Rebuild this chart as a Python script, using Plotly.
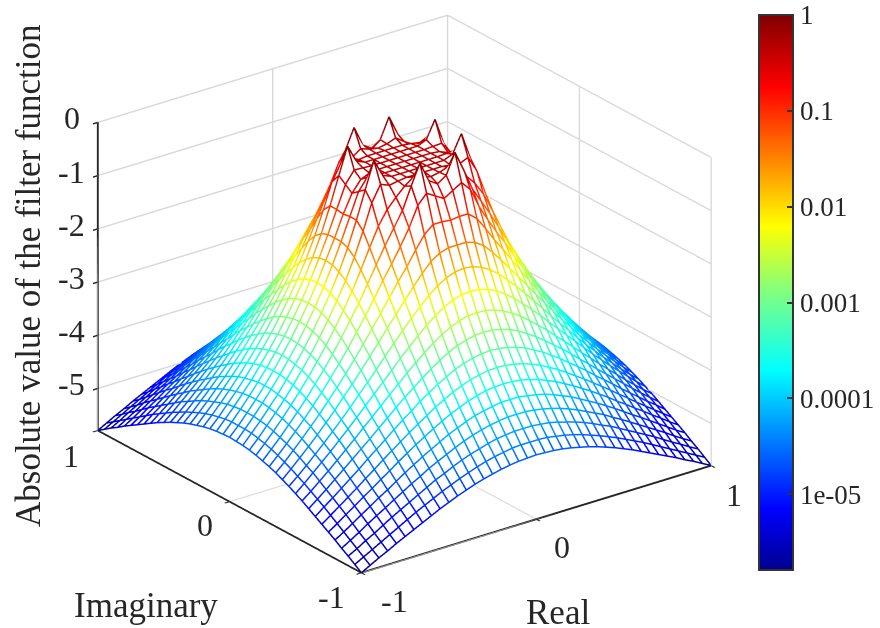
import numpy as np
import plotly.graph_objects as go

# grid coordinates
axis_values = [round(-1 + 0.05 * k, 2) for k in range(41)]

# log10 |filter| read for the first octant: row j (0..20), entries i = 0..j, step 0.05 from the centre
octant_values = [
    [-0.40],
    [-0.40, -0.40],
    [-0.40, -0.40, -0.40],
    [-0.40, -0.40, -0.40, -0.42],
    [-0.42, -0.39, -0.33, -0.45, -0.61],
    [-0.49, -0.38, 0.00, -0.38, -0.79, -1.07],
    [-0.70, -0.60, -0.50, -0.68, -1.05, -1.35, -1.63],
    [-1.04, -1.02, -1.02, -1.16, -1.40, -1.66, -1.89, -2.14],
    [-1.44, -1.44, -1.49, -1.60, -1.77, -1.97, -2.18, -2.39, -2.60],
    [-1.81, -1.83, -1.89, -1.99, -2.12, -2.28, -2.45, -2.63, -2.82, -3.01],
    [-2.18, -2.19, -2.24, -2.32, -2.43, -2.56, -2.71, -2.87, -3.03, -3.21, -3.38],
    [-2.51, -2.52, -2.56, -2.63, -2.72, -2.83, -2.96, -3.10, -3.24, -3.40, -3.55, -3.71],
    [-2.81, -2.82, -2.86, -2.91, -2.99, -3.09, -3.20, -3.32, -3.45, -3.58, -3.72, -3.87, -4.01],
    [-3.09, -3.10, -3.13, -3.18, -3.24, -3.33, -3.42, -3.53, -3.64, -3.77, -3.89, -4.02, -4.16, -4.29],
    [-3.34, -3.35, -3.38, -3.42, -3.48, -3.55, -3.64, -3.73, -3.84, -3.95, -4.06, -4.18, -4.30, -4.42, -4.55],
    [-3.58, -3.59, -3.61, -3.65, -3.70, -3.77, -3.84, -3.93, -4.02, -4.12, -4.22, -4.33, -4.44, -4.56, -4.67, -4.79],
    [-3.81, -3.81, -3.84, -3.87, -3.91, -3.97, -4.04, -4.11, -4.20, -4.29, -4.38, -4.48, -4.58, -4.69, -4.80, -4.90, -5.01],
    [-4.02, -4.02, -4.04, -4.07, -4.11, -4.16, -4.22, -4.29, -4.37, -4.45, -4.53, -4.63, -4.72, -4.82, -4.92, -5.02, -5.12, -5.22],
    [-4.22, -4.22, -4.24, -4.26, -4.30, -4.35, -4.40, -4.46, -4.53, -4.61, -4.68, -4.77, -4.86, -4.95, -5.04, -5.13, -5.23, -5.33, -5.42],
    [-4.41, -4.41, -4.42, -4.45, -4.48, -4.52, -4.57, -4.63, -4.69, -4.76, -4.83, -4.91, -4.99, -5.07, -5.16, -5.25, -5.34, -5.43, -5.52, -5.61],
    [-4.58, -4.59, -4.60, -4.62, -4.65, -4.69, -4.73, -4.78, -4.84, -4.90, -4.97, -5.04, -5.12, -5.20, -5.28, -5.36, -5.44, -5.53, -5.61, -5.70, -5.79],
]

colorbar_tick_values = [-5, -4, -3, -2, -1, 0]
colorbar_tick_labels = ["1e-05", "0.0001", "0.001", "0.01", "0.1", "1"]
z_ticks = [0, -1, -2, -3, -4, -5]
xy_ticks = [-1, 0, 1]

ZMIN, ZMAX = -5.79, 0.0
FONT = "Liberation Serif"
INK = "#262626"

jet = [
    [0.0, "rgb(0,0,143)"], [0.11, "rgb(0,0,255)"], [0.36, "rgb(0,255,255)"],
    [0.5, "rgb(128,255,128)"], [0.62, "rgb(255,255,0)"], [0.87, "rgb(255,0,0)"],
    [1.0, "rgb(128,0,0)"],
]

n = len(axis_values)
centre = n // 2
Z = np.zeros((n, n))
for a in range(n):
    for b in range(n):
        i, j = abs(a - centre), abs(b - centre)
        Z[a, b] = octant_values[max(i, j)][min(i, j)]

xs, ys, zs, cs = [], [], [], []
for a in range(n):
    for b in range(n):
        xs.append(axis_values[b]); ys.append(axis_values[a]); zs.append(Z[a, b]); cs.append(Z[a, b])
    xs.append(None); ys.append(None); zs.append(None); cs.append(Z[a, n - 1])
for b in range(n):
    for a in range(n):
        xs.append(axis_values[b]); ys.append(axis_values[a]); zs.append(Z[a, b]); cs.append(Z[a, b])
    xs.append(None); ys.append(None); zs.append(None); cs.append(Z[n - 1, b])

fig = go.Figure()
fig.add_trace(go.Surface(
    x=axis_values, y=axis_values, z=Z - 0.03,
    colorscale=[[0, "white"], [1, "white"]], showscale=False, hoverinfo="skip",
    lighting=dict(ambient=1, diffuse=0, specular=0, fresnel=0, roughness=1),
))
fig.add_trace(go.Scatter3d(
    x=xs, y=ys, z=zs, mode="lines", hoverinfo="skip",
    line=dict(
        width=3.0, color=cs, colorscale=jet, cmin=ZMIN, cmax=ZMAX, showscale=True,
        colorbar=dict(
            x=759 / 880, xanchor="left", y=1 - 15 / 628, yanchor="top",
            thickness=34, thicknessmode="pixels", len=555, lenmode="pixels",
            xpad=0, ypad=0, outlinewidth=2, outlinecolor="#333333",
            tickmode="array", tickvals=colorbar_tick_values, ticktext=colorbar_tick_labels,
            ticks="inside", ticklen=7, tickwidth=1.5, tickcolor="#333333",
            tickfont=dict(family=FONT, size=27, color=INK),
        ),
    ),
))

def ax(tickvals, rng):
    return dict(
        range=rng, tickmode="array", tickvals=tickvals, showticklabels=False,
        showbackground=False, showgrid=True, gridcolor="#d8d8d8", gridwidth=3,
        zeroline=False, showline=True, linecolor=INK, linewidth=4,
        ticks="outside", ticklen=6, tickcolor=INK, tickwidth=3, showspikes=False, title=dict(text=""),
    )

def tick_label(x, y, z, text, dx, dy):
    return dict(x=x, y=y, z=z, text=text, showarrow=False, xanchor="center", yanchor="middle",
                xshift=dx, yshift=-dy, font=dict(family=FONT, size=32, color=INK))

scene_labels = []
for v in z_ticks:
    scene_labels.append(tick_label(-1, 1, v, str(v), -26, -4))
for v, (dx, dy) in zip(xy_ticks, [(-30, 24), (-25, 23), (-27, 25)]):
    scene_labels.append(tick_label(-1, v, ZMIN, str(v), dx, dy))
for v, (dx, dy) in zip(xy_ticks, [(33, 28), (26, 28), (23, 29)]):
    scene_labels.append(tick_label(v, -1, ZMIN, str(v), dx, dy))

az = np.deg2rad(37.0)
el = np.deg2rad(24.0)
R = 1.43
fig.update_layout(
    width=880, height=628, margin=dict(l=0, r=0, t=0, b=0, autoexpand=False),
    paper_bgcolor="white", showlegend=False,
    scene=dict(
        domain=dict(x=[0, 809 / 880], y=[42 / 628, 1 - 2 / 628]),
        xaxis=ax(xy_ticks, [-1, 1]),
        yaxis=ax(xy_ticks, [-1, 1]),
        zaxis=ax(z_ticks, [ZMIN, ZMAX]),
        aspectmode="manual", aspectratio=dict(x=1.5, y=1.5, z=1.155),
        annotations=scene_labels,
        camera=dict(
            projection=dict(type="orthographic"),
            up=dict(x=0, y=0, z=1), center=dict(x=0, y=0, z=0),
            eye=dict(x=-R * np.sin(az) * np.cos(el), y=-R * np.cos(az) * np.cos(el), z=R * np.sin(el)),
        ),
    ),
    annotations=[
        dict(text="Absolute value of the filter function", x=28 / 880, y=1 - 276 / 628, xref="paper", yref="paper",
             xanchor="center", yanchor="middle", textangle=-90, showarrow=False,
             font=dict(family=FONT, size=35, color=INK)),
        dict(text="Imaginary", x=146 / 880, y=1 - 605 / 628, xref="paper", yref="paper",
             xanchor="center", yanchor="middle", showarrow=False, font=dict(family=FONT, size=35, color=INK)),
        dict(text="Real", x=558 / 880, y=1 - 612 / 628, xref="paper", yref="paper",
             xanchor="center", yanchor="middle", showarrow=False, font=dict(family=FONT, size=35, color=INK)),
    ],
)
fig.write_html("out.html", post_script="document.body.style.margin='0';", config={"displayModeBar": False})
